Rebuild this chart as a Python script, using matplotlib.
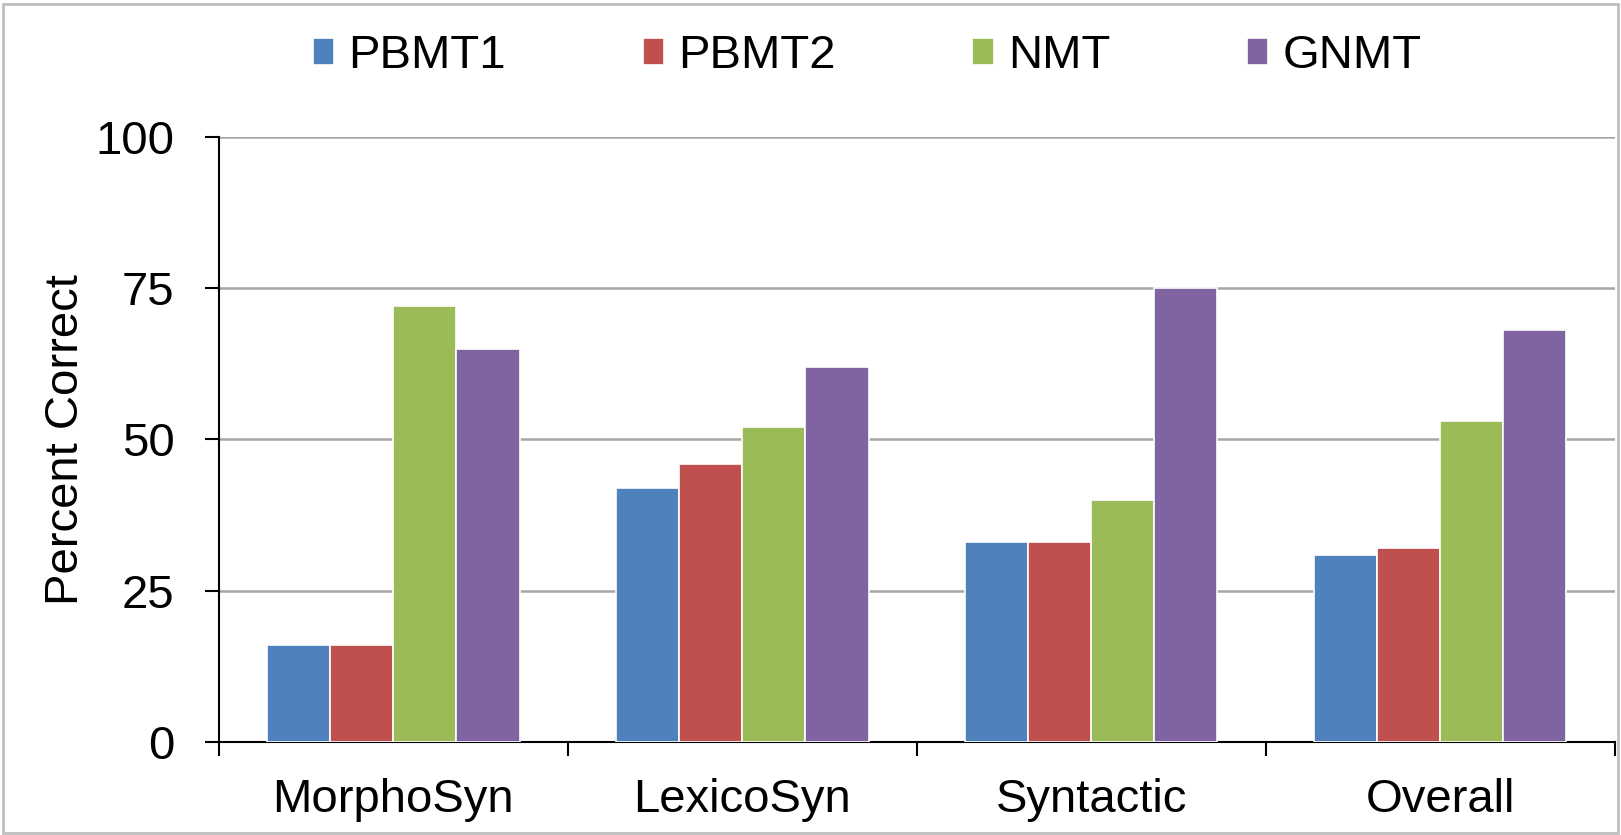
import numpy as np
import matplotlib.pyplot as plt
from matplotlib.patches import Rectangle

plt.rcParams['font.family'] = ['Liberation Sans', 'DejaVu Sans']

categories = ['MorphoSyn', 'LexicoSyn', 'Syntactic', 'Overall']
series = ['PBMT1', 'PBMT2', 'NMT', 'GNMT']
pbmt1 = [16, 42, 33, 31]
pbmt2 = [16, 46, 33, 32]
nmt = [72, 52, 40, 53]
gnmt = [65, 62, 75, 68]
values = [pbmt1, pbmt2, nmt, gnmt]
colors = ['#4F81BD', '#C0504D', '#9BBB59', '#8064A2']

fig = plt.figure(figsize=(16.21, 8.35), dpi=100)
ax = fig.add_axes([0.135, 0.111, 0.861, 0.7255])

x = np.arange(len(categories))
w = 0.181
for i, (name, vals) in enumerate(zip(series, values)):
    ax.bar(x + (i - 1.5) * w, vals, w, color=colors[i], label=name,
           edgecolor='white', linewidth=1.2, zorder=3)

ax.set_ylim(0, 100)
ax.set_xlim(-0.5, 3.5)
ax.set_yticks([0, 25, 50, 75, 100])
ax.yaxis.grid(True, color='#A6A6A6', linewidth=1.8, zorder=0)
ax.set_axisbelow(True)

ax.set_xticks(x)
ax.set_xticklabels(categories)
ax.set_xticks(np.arange(-0.5, 4, 1), minor=True)
ax.tick_params(axis='x', which='major', length=0, pad=26, labelsize=34)
ax.tick_params(axis='x', which='minor', length=10, width=1.5, direction='out')
ax.tick_params(axis='y', length=10, width=1.5, labelsize=34, pad=22)

for s in ['top', 'right']:
    ax.spines[s].set_visible(False)
ax.spines['left'].set_linewidth(1.5)
ax.spines['bottom'].set_linewidth(1.5)

ax.set_ylabel('Percent Correct', fontsize=34, labelpad=5)

handles, labels = ax.get_legend_handles_labels()
fig.legend(handles, labels, loc='upper center', bbox_to_anchor=(0.535, 1.01), ncol=4,
           frameon=False, fontsize=34, handlelength=0.45, handleheight=0.5,
           handletextpad=0.3, columnspacing=2.9)

fig.patches.append(Rectangle((0.002, 0.002), 0.996, 0.993, transform=fig.transFigure,
                             fill=False, edgecolor='#BFBFBF', linewidth=2))

fig.savefig('out.png', dpi=100)
